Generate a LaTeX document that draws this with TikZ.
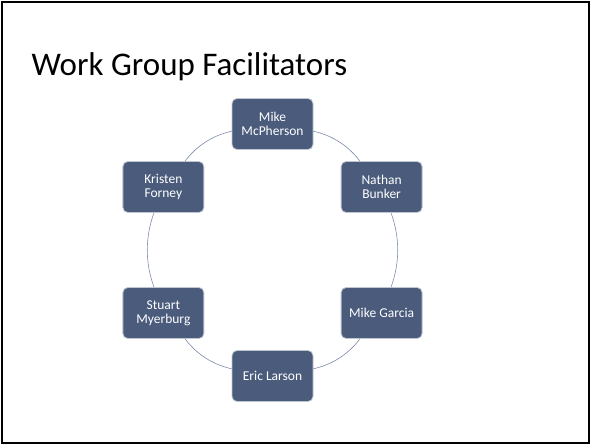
\documentclass[tikz,border=0pt]{standalone}
\usepackage{fontspec}
\setmainfont{Carlito}
\usetikzlibrary{positioning}
\definecolor{facilfill}{RGB}{75,91,124}
\definecolor{ringline}{RGB}{125,140,172}

\begin{document}
\begin{tikzpicture}[x=1pt,y=1pt,
	facil/.style={rectangle,rounded corners=5pt,fill=facilfill,draw=white!65!facilfill,line width=0.8pt,
		minimum width=81pt,minimum height=51pt,inner sep=1pt,align=center,text=white,
		font=\fontsize{13.5}{14}\selectfont},
	ring/.style={draw=ringline,line width=0.6pt,bend left=20,looseness=0.9}]
	\useasboundingbox (-272.5,-195) rectangle (318.5,250);
	\draw[line width=2pt] (-270.5,247.5) rectangle (316.5,-193);
	\node[anchor=base west,inner sep=0pt,font=\fontsize{33}{36}\selectfont] (title) at (-241,175) {Work Group Facilitators};
	\node[facil] (mcpherson) at (90:126)   {Mike\\McPherson};
	\node[facil] (bunker)    at (30:126)   {Nathan\\Bunker};
	\node[facil] (garcia)    at (-30:126)  {Mike Garcia};
	\node[facil] (larson)    at (-90:126)  {Eric Larson};
	\node[facil] (myerburg)  at (-150:126) {Stuart\\Myerburg};
	\node[facil] (forney)    at (150:126)  {Kristen\\Forney};
	\path
	(mcpherson) edge [ring] (bunker)
	(bunker) edge [ring] (garcia)
	(garcia) edge [ring] (larson)
	(larson) edge [ring] (myerburg)
	(myerburg) edge [ring] (forney)
	(forney) edge [ring] (mcpherson);
\end{tikzpicture}
\end{document}
